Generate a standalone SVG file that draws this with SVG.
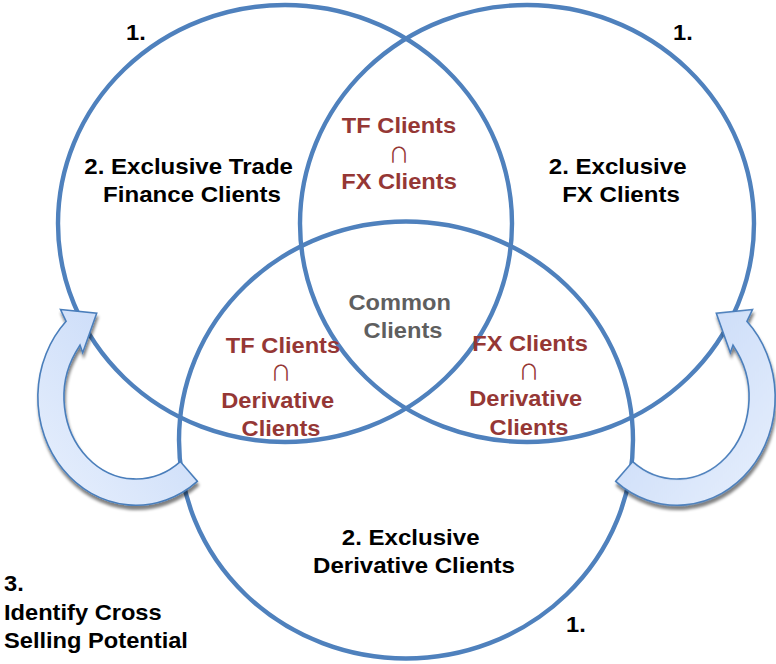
<svg xmlns="http://www.w3.org/2000/svg" width="776" height="664" viewBox="0 0 776 664">
  <defs>
    <style>
      .ring{fill:none;stroke:#4F81BD;stroke-width:4.4}
      .lbl{font-family:"Liberation Sans",Arial,sans-serif;font-weight:bold;font-size:21.5px}
      .blk{fill:#000}
      .red{fill:#953735}
      .gry{fill:#5F5F5F}
      .mid{text-anchor:middle}
      .cap{font-family:"Noto Sans CJK SC","DejaVu Sans",sans-serif;font-weight:normal;font-size:21px}
      .arr{fill:url(#arrFill);stroke:#4A7EBB;stroke-width:1.6;stroke-linejoin:miter}
    </style>
    <linearGradient id="arrFill" x1="0" y1="1" x2="1" y2="0">
      <stop offset="0" stop-color="#E8F0FD"/>
      <stop offset="1" stop-color="#C2D6F7"/>
    </linearGradient>
    <filter id="shadow" x="-20%" y="-20%" width="140%" height="140%">
      <feGaussianBlur in="SourceAlpha" stdDeviation="1.4"/>
      <feOffset dx="1" dy="3.5" result="off"/>
      <feComponentTransfer><feFuncA type="linear" slope="0.5"/></feComponentTransfer>
      <feMerge><feMergeNode/><feMergeNode in="SourceGraphic"/></feMerge>
    </filter>
    <!-- curved cross-selling arrow, drawn for the left side; mirrored for the right -->
    <path id="curveArrow" class="arr" d="M60.5,309.5 L96.7,313.3 L82.7,352.7 L80,345 L75.6,352.3 A72,82 0 0 0 180.3,461.6 L197.3,481.3 A98,108 0 0 1 66.1,321.3 Z"/>
  </defs>

  <rect width="776" height="664" fill="#FFFFFF"/>

  <!-- set rings -->
  <g id="trade-finance">
    <ellipse class="ring" cx="285" cy="223.5" rx="227" ry="218.5"/>
    <text class="lbl blk" transform="translate(126,0) scale(1.1,1)" x="0" y="40">1.</text>
    <text class="lbl blk mid" transform="translate(192,0) scale(1.12,1)">
      <tspan x="0" y="174">2. Exclusive Trade</tspan>
      <tspan x="0" y="202.5">Finance Clients</tspan>
    </text>
  </g>

  <g id="fx">
    <ellipse class="ring" cx="527" cy="223.5" rx="227" ry="218.5"/>
    <text class="lbl blk" transform="translate(673,0) scale(1.1,1)" x="0" y="40">1.</text>
    <text class="lbl blk mid" transform="translate(621,0) scale(1.12,1)">
      <tspan x="0" y="174">2. Exclusive</tspan>
      <tspan x="0" y="202.5">FX Clients</tspan>
    </text>
  </g>

  <g id="derivatives">
    <ellipse class="ring" cx="406" cy="440" rx="227" ry="218.5"/>
    <text class="lbl blk" transform="translate(566,0) scale(1.1,1)" x="0" y="632">1.</text>
    <text class="lbl blk mid" transform="translate(414,0) scale(1.12,1)">
      <tspan x="0" y="545">2. Exclusive</tspan>
      <tspan x="0" y="573.5">Derivative Clients</tspan>
    </text>
  </g>

  <!-- overlaps -->
  <g id="tf-fx">
    <text class="lbl red mid" transform="translate(399,0) scale(1.1,1)" x="0" y="133.5">TF Clients</text>
    <text class="cap red mid" x="399" y="161.5">∩</text>
    <text class="lbl red mid" transform="translate(399,0) scale(1.1,1)" x="0" y="189.5">FX Clients</text>
  </g>

  <g id="tf-derivatives">
    <text class="lbl red mid" transform="translate(283,0) scale(1.1,1)" x="0" y="353.5">TF Clients</text>
    <text class="cap red mid" x="281" y="380">∩</text>
    <text class="lbl red mid" transform="translate(281,0) scale(1.1,1)">
      <tspan x="0" y="408.5">Derivative</tspan>
      <tspan x="0" y="436">Clients</tspan>
    </text>
  </g>

  <g id="fx-derivatives">
    <text class="lbl red mid" transform="translate(530,0) scale(1.1,1)" x="0" y="351.5">FX Clients</text>
    <text class="cap red mid" x="529" y="378.5">∩</text>
    <text class="lbl red mid" transform="translate(529,0) scale(1.1,1)">
      <tspan x="0" y="406.5">Derivative</tspan>
      <tspan x="0" y="435">Clients</tspan>
    </text>
  </g>

  <g id="common">
    <text class="lbl gry mid" transform="translate(403,0) scale(1.1,1)">
      <tspan x="0" y="310">Common</tspan>
      <tspan x="0" y="338.5">Clients</tspan>
    </text>
  </g>

  <!-- cross-selling arrows -->
  <g id="connectors" filter="url(#shadow)">
    <use href="#curveArrow"/>
    <use href="#curveArrow" transform="translate(813,0) scale(-1,1)"/>
  </g>

  <g id="cross-selling">
    <text class="lbl blk" transform="translate(4,0) scale(1.1,1)">
      <tspan x="0" y="591.5">3.</tspan>
      <tspan x="0" y="620">Identify Cross</tspan>
      <tspan x="0" y="648.5">Selling Potential</tspan>
    </text>
  </g>
</svg>
